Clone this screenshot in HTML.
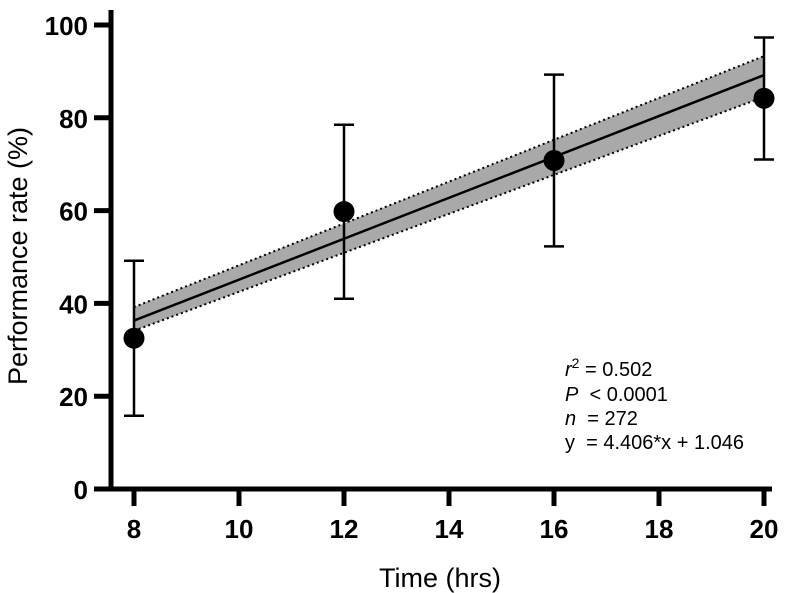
<!DOCTYPE html>
<html><head><meta charset="utf-8"><style>
html,body{margin:0;padding:0;background:#fff;}
svg{display:block;font-family:"Liberation Sans",Arial,sans-serif;}
</style></head><body>
<svg id="chart" width="786" height="593">
<g id="plot"></g>
</svg>
<script>
const categories=[8,12,16,20];
const means=[32.5,59.8,70.8,84.2];
const errHigh=[49.2,78.5,89.3,97.3];
const errLow=[15.8,41,52.3,71];
const fitX=[8,20];
const fitY=[36.3,89.2];
const bandUpper=[39.2,93.3];
const bandLower=[34.1,84.5];
const xTicks=[8,10,12,14,16,18,20];
const yTicks=[0,20,40,60,80,100];

const NS='http://www.w3.org/2000/svg';
const g=document.getElementById('plot');
function X(v){return 134+(v-8)*52.5;}
function Y(v){return 489-v*4.64;}
function mk(t,a,txt){const e=document.createElementNS(NS,t);for(const k in a)e.setAttribute(k,a[k]);if(txt!==undefined)e.textContent=txt;g.appendChild(e);return e;}

let band=mk('polygon',{points:`${X(fitX[0])},${Y(bandUpper[0])} ${X(fitX[1])},${Y(bandUpper[1])} ${X(fitX[1])},${Y(bandLower[1])} ${X(fitX[0])},${Y(bandLower[0])}`,fill:'#a9a9a9'});


let bu=mk('line',{x1:X(fitX[0]),y1:Y(bandUpper[0]),x2:X(fitX[1]),y2:Y(bandUpper[1]),stroke:'#000','stroke-width':2,'stroke-dasharray':'2,3'});


let bl=mk('line',{x1:X(fitX[0]),y1:Y(bandLower[0]),x2:X(fitX[1]),y2:Y(bandLower[1]),stroke:'#000','stroke-width':2,'stroke-dasharray':'2,3'});


let fl=mk('line',{x1:X(fitX[0]),y1:Y(fitY[0]),x2:X(fitX[1]),y2:Y(fitY[1]),stroke:'#000','stroke-width':2.5});



categories.forEach((c,i)=>{
  const x=X(c);
  let eb=mk('path',{d:`M${x},${Y(errHigh[i])}V${Y(errLow[i])}M${x-10},${Y(errHigh[i])}h20M${x-10},${Y(errLow[i])}h20`,stroke:'#000','stroke-width':2.5,fill:'none'});
  
  
  let p=mk('circle',{cx:x,cy:Y(means[i]),r:10.5,fill:'#000'});
  
  
});

let ya=mk('line',{x1:111,y1:10,x2:111,y2:491.5,stroke:'#000','stroke-width':5});


let xa=mk('line',{x1:94,y1:489,x2:772,y2:489,stroke:'#000','stroke-width':5});


yTicks.forEach(v=>{
  let t=mk('line',{x1:94,y1:Y(v),x2:111,y2:Y(v),stroke:'#000','stroke-width':5});
  
  
  let l=mk('text',{x:88,y:Y(v)+10,'text-anchor':'end','font-size':26,'font-weight':'bold'},String(v));
  
  
});
xTicks.forEach(v=>{
  let t=mk('line',{x1:X(v),y1:489,x2:X(v),y2:506,stroke:'#000','stroke-width':5});
  
  
  let l=mk('text',{x:X(v),y:538,'text-anchor':'middle','font-size':26,'font-weight':'bold'},String(v));
  
  
});
let xt=mk('text',{x:440,y:587,'text-anchor':'middle','font-size':27},'Time (hrs)');


let yt=mk('text',{x:0,y:0,'text-anchor':'middle','font-size':27,transform:'translate(27,256) rotate(-90)'},'Performance rate (%)');


</script>
<svg style="position:absolute;left:0;top:0" width="786" height="593">
<g font-family="Liberation Sans, Arial, sans-serif" font-size="20">
<text x="565" y="376"><tspan font-style="italic">r</tspan><tspan dy="-8" font-size="14">2</tspan><tspan dy="8"> = 0.502</tspan></text>
<text x="565" y="401"><tspan font-style="italic">P</tspan>&#160; &lt; 0.0001</text>
<text x="565" y="425"><tspan font-style="italic">n</tspan>&#160; = 272</text>
<text x="565" y="449">y&#160; = 4.406*x + 1.046</text>
</g>
</svg>
</body></html>
